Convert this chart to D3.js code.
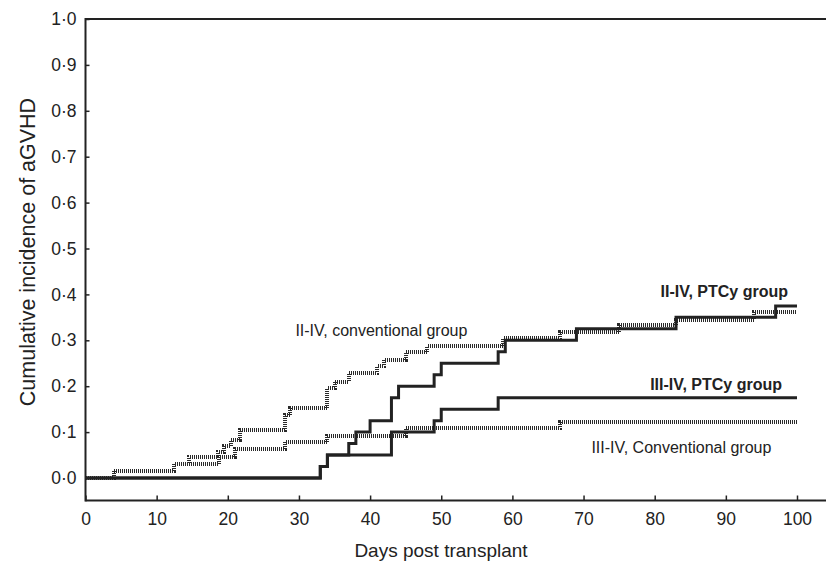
<!DOCTYPE html>
<html><head><meta charset="utf-8">
<script src="https://cdn.jsdelivr.net/npm/d3@7"></script>
<style>body{margin:0;background:#fff}svg{display:block;font-family:"Liberation Sans",Arial,Helvetica,sans-serif}</style>
</head><body><svg id="c" width="826" height="563"></svg>
<script>
const xTicks = [0,10,20,30,40,50,60,70,80,90,100];
const yTicks = [0,0.1,0.2,0.3,0.4,0.5,0.6,0.7,0.8,0.9,1.0];
const ptcy24T = [0,33,34,37,38,40,43,44,49,50,58,59,69,83,97,100];
const ptcy24V = [0,0.025,0.05,0.075,0.1,0.125,0.175,0.2,0.225,0.25,0.275,0.3,0.325,0.35,0.375,0.375];
const ptcy34T = [0,33,34,43,49,50,58,100];
const ptcy34V = [0,0.025,0.05,0.1,0.125,0.15,0.175,0.175];
const conv24T = [0,4,12.5,14.5,18.6,19.5,20.5,21.7,28,28.8,34,35,37,41,42,45,48,58.7,66.7,75,83,94,100];
const conv24V = [0,0.016,0.031,0.046,0.057,0.07,0.083,0.104,0.137,0.152,0.196,0.21,0.228,0.243,0.258,0.274,0.287,0.304,0.317,0.333,0.345,0.362,0.362];
const conv34T = [0,4,12.5,18.8,21,28,34,45,66.7,100];
const conv34V = [0,0.016,0.031,0.046,0.063,0.078,0.092,0.108,0.122,0.122];
const labels = [
  {text:"II-IV, PTCy group", x:100, y:0.395, anchor:"end", bold:true, dx:-9},
  {text:"II-IV, conventional group", x:29.5, y:0.309, anchor:"start", bold:false, dx:0},
  {text:"III-IV, PTCy group", x:100, y:0.192, anchor:"end", bold:true, dx:-15},
  {text:"III-IV, Conventional group", x:71.1, y:0.055, anchor:"start", bold:false, dx:0}
];

const svg = d3.select("#c");
const x = d3.scaleLinear().domain([0,100]).range([85.5,797]);
const y = d3.scaleLinear().domain([0,1]).range([478,19]);
const axisCol = "#222";
const fmt = d => d3.format(".1f")(d).replace(".", "\u00B7");

// frame
svg.append("line").attr("x1",85.5).attr("x2",826).attr("y1",19).attr("y2",19).attr("stroke",axisCol).attr("stroke-width",2);
svg.append("line").attr("x1",85.5).attr("x2",826).attr("y1",500.5).attr("y2",500.5).attr("stroke",axisCol).attr("stroke-width",2);

const xa = svg.append("g").attr("transform","translate(0,500.5)")
  .call(d3.axisBottom(x).tickValues(xTicks).tickSize(-5).tickPadding(12).tickFormat(d3.format("d")));
xa.select(".domain").remove();
xa.selectAll("line").attr("stroke",axisCol).attr("stroke-width",1.5);
xa.selectAll("text").attr("font-size",17.5).attr("fill","#222");

const ya = svg.append("g").attr("transform","translate(85.5,0)")
  .call(d3.axisLeft(y).tickValues(yTicks).tickSize(-4).tickPadding(9).tickFormat(fmt));
ya.select(".domain").remove();
ya.selectAll("line").attr("stroke",axisCol).attr("stroke-width",1.5);
ya.selectAll("text").attr("font-size",17.5).attr("fill","#222");
svg.append("line").attr("x1",85.5).attr("x2",85.5).attr("y1",18).attr("y2",501.5).attr("stroke",axisCol).attr("stroke-width",2);

const line = d3.line().x(d=>x(d[0])).y(d=>y(d[1])).curve(d3.curveStepAfter);
function draw(T,V,opts){
  svg.append("path").datum(d3.zip(T,V)).attr("d",line).attr("fill","none")
    .attr("stroke",opts.color).attr("stroke-width",opts.w)
    .attr("stroke-dasharray",opts.dash||null).attr("stroke-linejoin","miter")
    .attr("shape-rendering",opts.crisp?"crispEdges":null);
}
const dotted = {color:"#2a2a2a", w:4, dash:"1,1", crisp:true};
const solid = {color:"#222", w:3};
draw(conv24T,conv24V,dotted);
draw(conv34T,conv34V,dotted);
draw(ptcy34T,ptcy34V,solid);
draw(ptcy24T,ptcy24V,solid);

labels.forEach(l=>{
  svg.append("text").attr("x",x(l.x)+l.dx).attr("y",y(l.y)).attr("text-anchor",l.anchor)
    .attr("font-size",16).attr("font-weight",l.bold?"bold":"normal").attr("fill","#222").text(l.text);
});

svg.append("text").attr("x",441).attr("y",557).attr("text-anchor","middle").attr("font-size",19).attr("fill","#222").text("Days post transplant");
svg.append("text").attr("transform","translate(35,252) rotate(-90)").attr("text-anchor","middle").attr("font-size",21.5).attr("fill","#222").text("Cumulative incidence of aGVHD");
</script></body></html>
